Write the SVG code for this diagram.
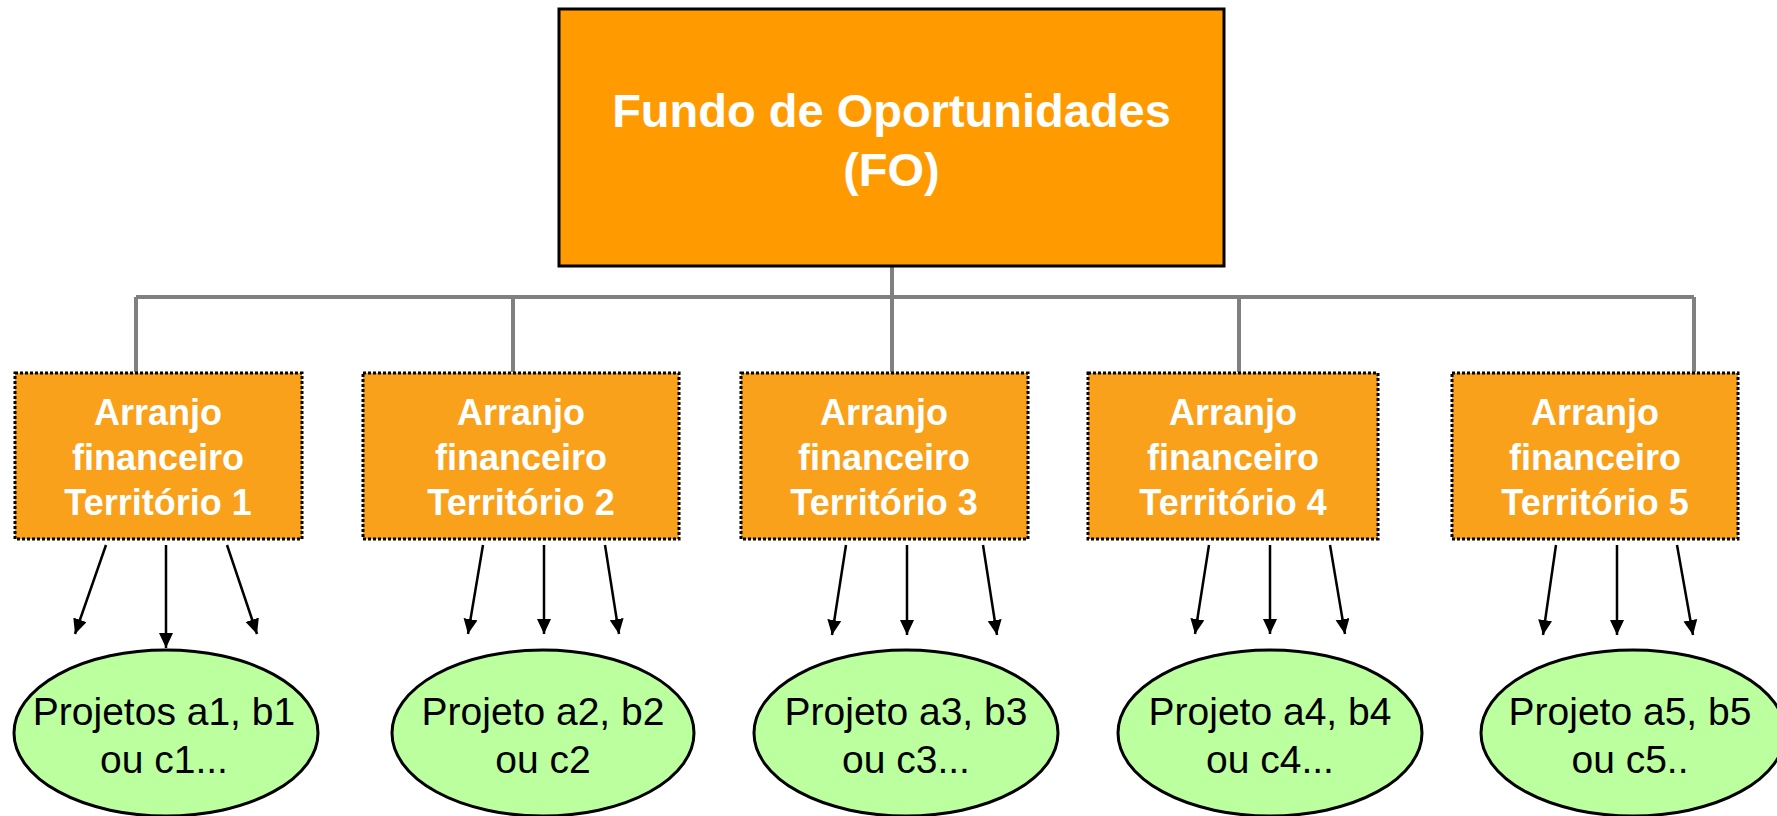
<svg xmlns="http://www.w3.org/2000/svg" width="1777" height="816" viewBox="0 0 1777 816">
<style>
.top{fill:#ff9b00;stroke:#000;stroke-width:3}
.terr{fill:#f9a11b;stroke:#000;stroke-width:3;stroke-dasharray:3 2}
.proj{fill:#bbff9f;stroke:#000;stroke-width:3}
.tw{font-family:"Liberation Sans",Arial,sans-serif;font-weight:bold;fill:#fff;text-anchor:middle}
.tb{font-family:"Liberation Sans",Arial,sans-serif;fill:#000;text-anchor:middle;font-size:39px}
.gl{stroke:#808080;stroke-width:4;fill:none}
.ar{stroke:#000;stroke-width:2.5;fill:none;marker-end:url(#ah)}
</style>
<defs>
<marker id="ah" markerUnits="userSpaceOnUse" markerWidth="16" markerHeight="16" refX="15" refY="7" orient="auto">
<path d="M0,0 L15,7 L0,14 Z" fill="#000"/>
</marker>
</defs>
<rect width="1777" height="816" fill="#fff"/>
<g id="connectors">
<path class="gl" d="M892,266 V297 M136,297 H1694 M136,297 V372 M513,297 V372 M892,297 V372 M1239,297 V372 M1694,297 V372"/>
<line class="ar" x1="106" y1="545" x2="75" y2="634"/>
<line class="ar" x1="166" y1="545" x2="166" y2="648"/>
<line class="ar" x1="227" y1="545" x2="257" y2="634"/>
<line class="ar" x1="483" y1="545" x2="468" y2="634"/>
<line class="ar" x1="544" y1="545" x2="544" y2="634"/>
<line class="ar" x1="605" y1="545" x2="619" y2="634"/>
<line class="ar" x1="846" y1="545" x2="832" y2="635"/>
<line class="ar" x1="907" y1="545" x2="907" y2="635"/>
<line class="ar" x1="983" y1="545" x2="997" y2="635"/>
<line class="ar" x1="1209" y1="545" x2="1195" y2="634"/>
<line class="ar" x1="1270" y1="545" x2="1270" y2="634"/>
<line class="ar" x1="1330" y1="545" x2="1345" y2="634"/>
<line class="ar" x1="1556" y1="545" x2="1543" y2="635"/>
<line class="ar" x1="1617" y1="545" x2="1617" y2="635"/>
<line class="ar" x1="1677" y1="545" x2="1693" y2="635"/>
</g>
<g id="fo">
<rect class="top" x="559" y="9" width="665" height="257"/>
<text class="tw" font-size="47" x="891.5" y="127">Fundo de Oportunidades</text>
<text class="tw" font-size="47" x="891.5" y="186">(FO)</text>
</g>
<g id="t1">
<rect class="terr" x="15" y="373" width="287" height="166"/>
<text class="tw" font-size="36" x="158" y="425">Arranjo</text>
<text class="tw" font-size="36" x="158" y="470">financeiro</text>
<text class="tw" font-size="36" x="158" y="515">Território 1</text>
</g>
<g id="t2">
<rect class="terr" x="363" y="373" width="316" height="166"/>
<text class="tw" font-size="36" x="521" y="425">Arranjo</text>
<text class="tw" font-size="36" x="521" y="470">financeiro</text>
<text class="tw" font-size="36" x="521" y="515">Território 2</text>
</g>
<g id="t3">
<rect class="terr" x="741" y="373" width="287" height="166"/>
<text class="tw" font-size="36" x="884" y="425">Arranjo</text>
<text class="tw" font-size="36" x="884" y="470">financeiro</text>
<text class="tw" font-size="36" x="884" y="515">Território 3</text>
</g>
<g id="t4">
<rect class="terr" x="1088" y="373" width="290" height="166"/>
<text class="tw" font-size="36" x="1233" y="425">Arranjo</text>
<text class="tw" font-size="36" x="1233" y="470">financeiro</text>
<text class="tw" font-size="36" x="1233" y="515">Território 4</text>
</g>
<g id="t5">
<rect class="terr" x="1452" y="373" width="286" height="166"/>
<text class="tw" font-size="36" x="1595" y="425">Arranjo</text>
<text class="tw" font-size="36" x="1595" y="470">financeiro</text>
<text class="tw" font-size="36" x="1595" y="515">Território 5</text>
</g>
<g id="p1">
<ellipse class="proj" cx="166" cy="733" rx="152" ry="83"/>
<text class="tb" x="164" y="725">Projetos a1, b1</text>
<text class="tb" x="164" y="773">ou c1...</text>
</g>
<g id="p2">
<ellipse class="proj" cx="543" cy="733" rx="151" ry="83"/>
<text class="tb" x="543" y="725">Projeto a2, b2</text>
<text class="tb" x="543" y="773">ou c2</text>
</g>
<g id="p3">
<ellipse class="proj" cx="906" cy="733" rx="152" ry="83"/>
<text class="tb" x="906" y="725">Projeto a3, b3</text>
<text class="tb" x="906" y="773">ou c3...</text>
</g>
<g id="p4">
<ellipse class="proj" cx="1270" cy="733" rx="152" ry="83"/>
<text class="tb" x="1270" y="725">Projeto a4, b4</text>
<text class="tb" x="1270" y="773">ou c4...</text>
</g>
<g id="p5">
<ellipse class="proj" cx="1633" cy="733" rx="152" ry="83"/>
<text class="tb" x="1630" y="725">Projeto a5, b5</text>
<text class="tb" x="1630" y="773">ou c5..</text>
</g>
</svg>
